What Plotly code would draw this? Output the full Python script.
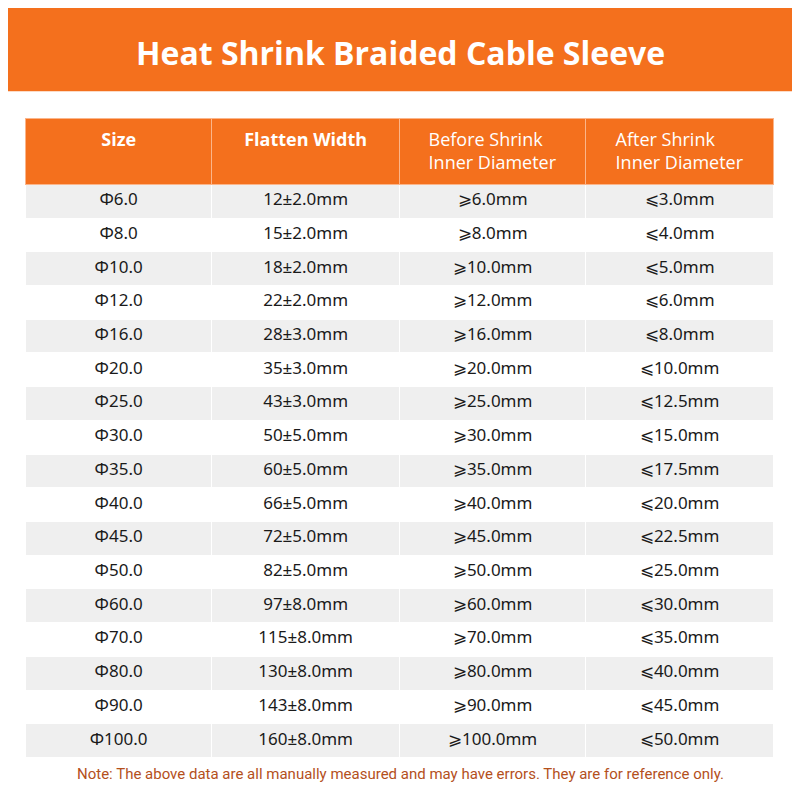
import plotly.graph_objects as go

sizes = ['Φ6.0', 'Φ8.0', 'Φ10.0', 'Φ12.0', 'Φ16.0', 'Φ20.0', 'Φ25.0', 'Φ30.0', 'Φ35.0',
         'Φ40.0', 'Φ45.0', 'Φ50.0', 'Φ60.0', 'Φ70.0', 'Φ80.0', 'Φ90.0', 'Φ100.0']
flatten_width = ['12±2.0mm', '15±2.0mm', '18±2.0mm', '22±2.0mm', '28±3.0mm', '35±3.0mm',
                 '43±3.0mm', '50±5.0mm', '60±5.0mm', '66±5.0mm', '72±5.0mm', '82±5.0mm',
                 '97±8.0mm', '115±8.0mm', '130±8.0mm', '143±8.0mm', '160±8.0mm']
before_shrink = ['⩾6.0mm', '⩾8.0mm', '⩾10.0mm', '⩾12.0mm', '⩾16.0mm', '⩾20.0mm', '⩾25.0mm',
                 '⩾30.0mm', '⩾35.0mm', '⩾40.0mm', '⩾45.0mm', '⩾50.0mm', '⩾60.0mm',
                 '⩾70.0mm', '⩾80.0mm', '⩾90.0mm', '⩾100.0mm']
after_shrink = ['⩽3.0mm', '⩽4.0mm', '⩽5.0mm', '⩽6.0mm', '⩽8.0mm', '⩽10.0mm', '⩽12.5mm',
                '⩽15.0mm', '⩽17.5mm', '⩽20.0mm', '⩽22.5mm', '⩽25.0mm', '⩽30.0mm',
                '⩽35.0mm', '⩽40.0mm', '⩽45.0mm', '⩽50.0mm']
headers = ['<b>Size</b>', '<b>Flatten Width</b>',
           'Before Shrink<br>Inner Diameter', 'After Shrink<br>Inner Diameter']

W = 784          # page adds an 8px body margin, so draw slightly smaller
s = W / 800
ORANGE = '#f4701d'
row_fill = ['#efefef' if i % 2 == 0 else '#ffffff' for i in range(len(sizes))]

fig = go.Figure(go.Table(
    domain=dict(x=[18 / 800, 782 / 800], y=[0.0, 1 - 113 / 800]),
    columnwidth=[190, 192, 190, 192],
    header=dict(
        values=headers,
        fill_color=ORANGE,
        line=dict(color='#fbb58a', width=1),
        font=dict(family='Open Sans', size=18, color='white'),
        align='center', height=67 * s,
    ),
    cells=dict(
        values=[sizes, flatten_width, before_shrink, after_shrink],
        fill_color=[row_fill] * 4,
        line=dict(color='white', width=1),
        font=dict(family='Noto Sans', size=17, color='#1a1a1a'),
        align='center', height=34.4 * s,
    ),
))

# title banner
fig.add_shape(type='rect', xref='paper', yref='paper', x0=0, x1=1, y0=1 - 85 / 800, y1=1,
              fillcolor=ORANGE, line_width=0, layer='below')
fig.add_annotation(text='<b>Heat Shrink Braided Cable Sleeve</b>', xref='paper', yref='paper',
                   x=0.5, y=1 - 45 / 800, yanchor='middle', showarrow=False,
                   font=dict(family='Open Sans', size=32, color='white'))
fig.add_annotation(text='Note: The above data are all manually measured and may have errors. '
                        'They are for reference only.',
                   xref='paper', yref='paper', x=0.5, y=1 - 782 / 800, yanchor='middle',
                   showarrow=False,
                   font=dict(family='Roboto', size=15, color='#b4501c'))

fig.update_layout(width=W, height=W, margin=dict(l=0, r=0, t=0, b=0),
                  paper_bgcolor='white', plot_bgcolor='white')
fig.write_html('out.html')
